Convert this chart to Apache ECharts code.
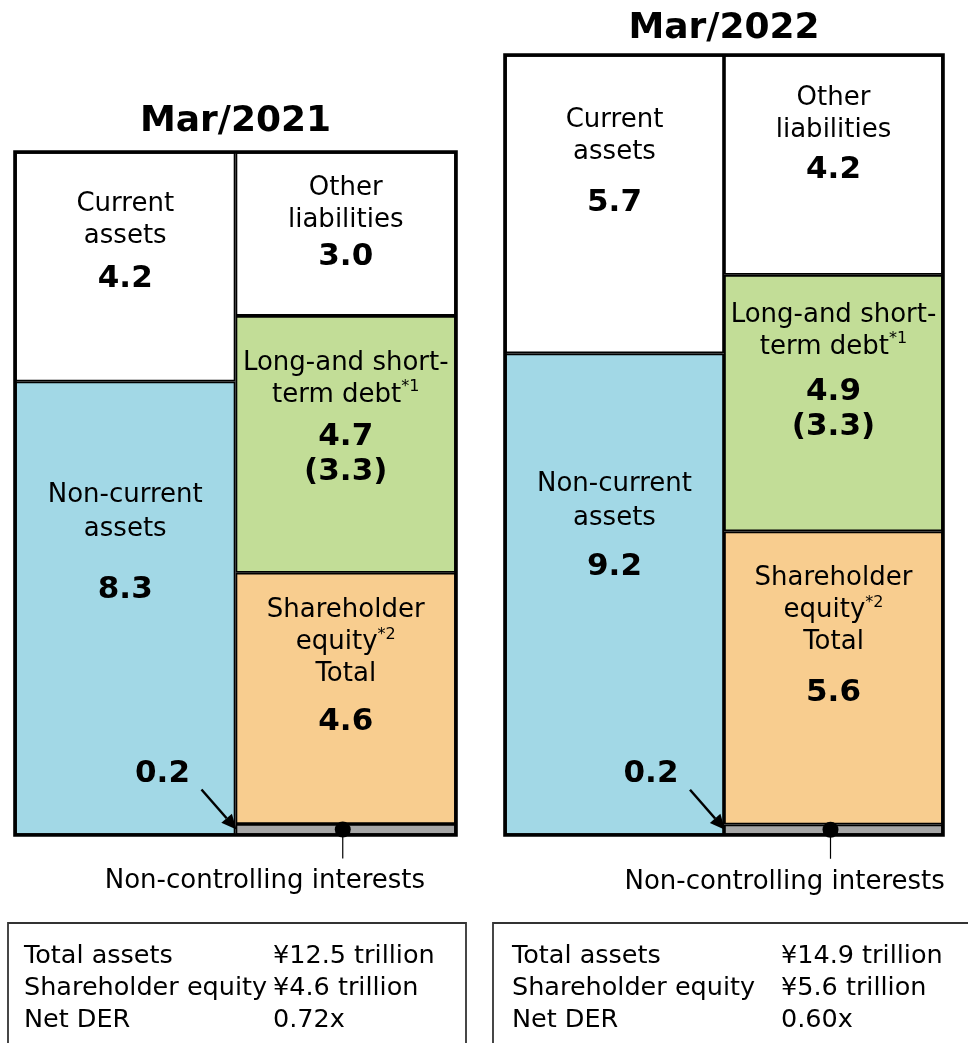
<!DOCTYPE html>
<html><head><meta charset="utf-8">
<script src="https://cdn.jsdelivr.net/npm/echarts@6/dist/echarts.min.js"></script>
<style>html,body{margin:0;padding:0;background:#fff}#c{width:968px;height:1043px}</style>
</head><body><div id="c"></div>
<script>
// ---- data ----
const periods = ['Mar/2021', 'Mar/2022'];
const sides = ['Assets', 'Liabilities and equity'];
const currentAssets = [4.2, 5.7];
const nonCurrentAssets = [8.3, 9.2];
const otherLiabilities = [3.0, 4.2];
const debt = [4.7, 4.9];
const netDebt = [3.3, 3.3];
const shareholderEquity = [4.6, 5.6];
const nonControlling = [0.2, 0.2];
const totalAssets = [12.5, 14.9];
const netDER = [0.72, 0.60];
const summaryLabels = ['Total assets', 'Shareholder equity', 'Net DER'];

// ---- layout / style ----
const FONT = '"DejaVu Sans", Verdana, sans-serif';
const grids = [
  { left: 15, top: 152, width: 441, height: 683 },
  { left: 505, top: 55, width: 438, height: 780 }
];
const labelTop = { current: [36, 49], nonCurrent: [97, 114], other: [20, 27], debt: [31, 24], equity: [22, 31] };
const valueGap = { current: [9, 17], nonCurrent: [26, 14], other: [3, 6], debt: [9, 12], equity: [14, 17] };
const titleOffset = [30, 26];
const nciTextLeft = [-238, -206];
const colors = { current: '#ffffff', nonCurrent: '#a2d8e6', other: '#ffffff', debt: '#c2dd97', equity: '#f8cd8f', nci: '#a6a6a6' };

function rich(gi, key, nLH) {
  return {
    n: { fontSize: 26, lineHeight: nLH || 32, fontFamily: FONT, color: '#000' },
    s: { fontSize: 16, lineHeight: 18, fontFamily: FONT, color: '#000', verticalAlign: 'top' },
    g: { fontSize: 2, lineHeight: valueGap[key][gi] },
    v: { fontSize: 31, lineHeight: 35, fontWeight: 'bold', fontFamily: FONT, color: '#000' }
  };
}

function bar(gi, key, cat, vals, text, nLH) {
  const data = cat === 0 ? [vals[gi], '-'] : ['-', vals[gi]];
  const s = {
    type: 'bar', name: key, xAxisIndex: gi, yAxisIndex: gi, stack: 'bs' + gi,
    data: data, barWidth: '100%', barGap: '0%', barCategoryGap: '0%',
    itemStyle: { color: colors[key], borderColor: '#000', borderWidth: 1.8 },
    emphasis: { disabled: true }, animation: false,
    label: { show: false }
  };
  if (text) {
    s.label = {
      show: true, position: ['50%', labelTop[key][gi]], align: 'center', verticalAlign: 'top',
      formatter: text, rich: rich(gi, key, nLH)
    };
  }
  return s;
}

const series = [];
[0, 1].forEach(gi => {
  series.push(bar(gi, 'nonCurrent', 0, nonCurrentAssets,
    '{n|Non-current}\n{n|assets}\n{g| }\n{v|' + nonCurrentAssets[gi].toFixed(1) + '}', 34));
  series.push(bar(gi, 'current', 0, currentAssets,
    '{n|Current}\n{n|assets}\n{g| }\n{v|' + currentAssets[gi].toFixed(1) + '}'));
  series.push(bar(gi, 'nci', 1, nonControlling, null));
  series.push(bar(gi, 'equity', 1, shareholderEquity,
    '{n|Shareholder}\n{n|equity}{s|*2}\n{n|Total}\n{g| }\n{v|' + shareholderEquity[gi].toFixed(1) + '}'));
  series.push(bar(gi, 'debt', 1, debt,
    '{n|Long-and short-}\n{n|term debt}{s|*1}\n{g| }\n{v|' + debt[gi].toFixed(1) + '}\n{v|(' + netDebt[gi].toFixed(1) + ')}'));
  series.push(bar(gi, 'other', 1, otherLiabilities,
    '{n|Other}\n{n|liabilities}\n{g| }\n{v|' + otherLiabilities[gi].toFixed(1) + '}'));
});

const chart = echarts.init(document.getElementById('c'), null, { renderer: 'canvas' });
chart.setOption({
  backgroundColor: '#fff',
  animation: false,
  grid: grids,
  xAxis: [0, 1].map(gi => ({ type: 'category', gridIndex: gi, data: sides, show: false })),
  yAxis: [0, 1].map(gi => ({ type: 'value', gridIndex: gi, min: 0, max: totalAssets[gi], show: false, splitLine: { show: false } })),
  series: series
});

// ---- annotations anchored to the axes ----
const gfx = [];
[0, 1].forEach(gi => {
  const f = { gridIndex: gi };
  const pA = chart.convertToPixel(f, [0, 0]);
  const pN = chart.convertToPixel(f, [1, nonControlling[gi] / 2]);
  const pT = chart.convertToPixel(f, [0, totalAssets[gi]]);
  const xL = grids[gi].left, xR = grids[gi].left + grids[gi].width;
  const xb = (pA[0] + pN[0]) / 2;
  // outer frame
  gfx.push({ type: 'rect', z: 100, shape: { x: xL, y: pT[1], width: xR - xL, height: pA[1] - pT[1] },
    style: { fill: 'none', stroke: '#000', lineWidth: 3.6 } });
  // title
  gfx.push({ type: 'text', z: 100, x: (xL + xR) / 2, y: pT[1] - titleOffset[gi],
    style: { text: periods[gi], font: 'bold 36px ' + FONT, fill: '#000', align: 'center', verticalAlign: 'middle' } });
  // 0.2 arrow
  const tip = [xb + 1, pN[1]];
  const start = [tip[0] - 35, tip[1] - 40];
  const dx = tip[0] - start[0], dy = tip[1] - start[1];
  const len = Math.sqrt(dx * dx + dy * dy), ux = dx / len, uy = dy / len;
  const hl = 15, hw = 7;
  const base = [tip[0] - ux * hl, tip[1] - uy * hl];
  gfx.push({ type: 'line', z: 100, shape: { x1: start[0], y1: start[1], x2: base[0], y2: base[1] }, style: { stroke: '#000', lineWidth: 2.5 } });
  gfx.push({ type: 'polygon', z: 100, shape: { points: [tip, [base[0] - uy * hw, base[1] + ux * hw], [base[0] + uy * hw, base[1] - ux * hw]] }, style: { fill: '#000' } });
  gfx.push({ type: 'text', z: 100, x: tip[0] - 74, y: tip[1] - 56,
    style: { text: nonControlling[gi].toFixed(1), font: 'bold 31px ' + FONT, fill: '#000', align: 'center', verticalAlign: 'middle' } });
  // NCI dot + leader + label
  const dotX = pN[0] - 3;
  gfx.push({ type: 'line', z: 100, shape: { x1: dotX, y1: pN[1], x2: dotX, y2: pN[1] + 29 }, style: { stroke: '#000', lineWidth: 1.2 } });
  gfx.push({ type: 'circle', z: 100, shape: { cx: dotX, cy: pN[1], r: 8 }, style: { fill: '#000' } });
  gfx.push({ type: 'text', z: 100, x: dotX + nciTextLeft[gi], y: pN[1] + 52,
    style: { text: 'Non-controlling interests', font: '26px ' + FONT, fill: '#000', align: 'left', verticalAlign: 'middle' } });
});

// summary boxes
const boxes = [{ x: 8, w: 458, tx: 24, vx: 273 }, { x: 493, w: 490, tx: 512, vx: 781 }];
boxes.forEach((b, i) => {
  gfx.push({ type: 'rect', z: 100, shape: { x: b.x, y: 923, width: b.w, height: 140 }, style: { fill: 'none', stroke: '#333', lineWidth: 1.8 } });
  const vals = ['\u00a5' + totalAssets[i].toFixed(1) + ' trillion', '\u00a5' + shareholderEquity[i].toFixed(1) + ' trillion', netDER[i].toFixed(2) + 'x'];
  summaryLabels.forEach((t, r) => {
    const y = 956 + r * 32;
    gfx.push({ type: 'text', z: 100, x: b.tx, y: y, style: { text: t, font: '25.5px ' + FONT, fill: '#000', align: 'left', verticalAlign: 'middle' } });
    gfx.push({ type: 'text', z: 100, x: b.vx, y: y, style: { text: vals[r], font: '25.5px ' + FONT, fill: '#000', align: 'left', verticalAlign: 'middle' } });
  });
});

chart.setOption({ graphic: gfx });
</script>
</body></html>
